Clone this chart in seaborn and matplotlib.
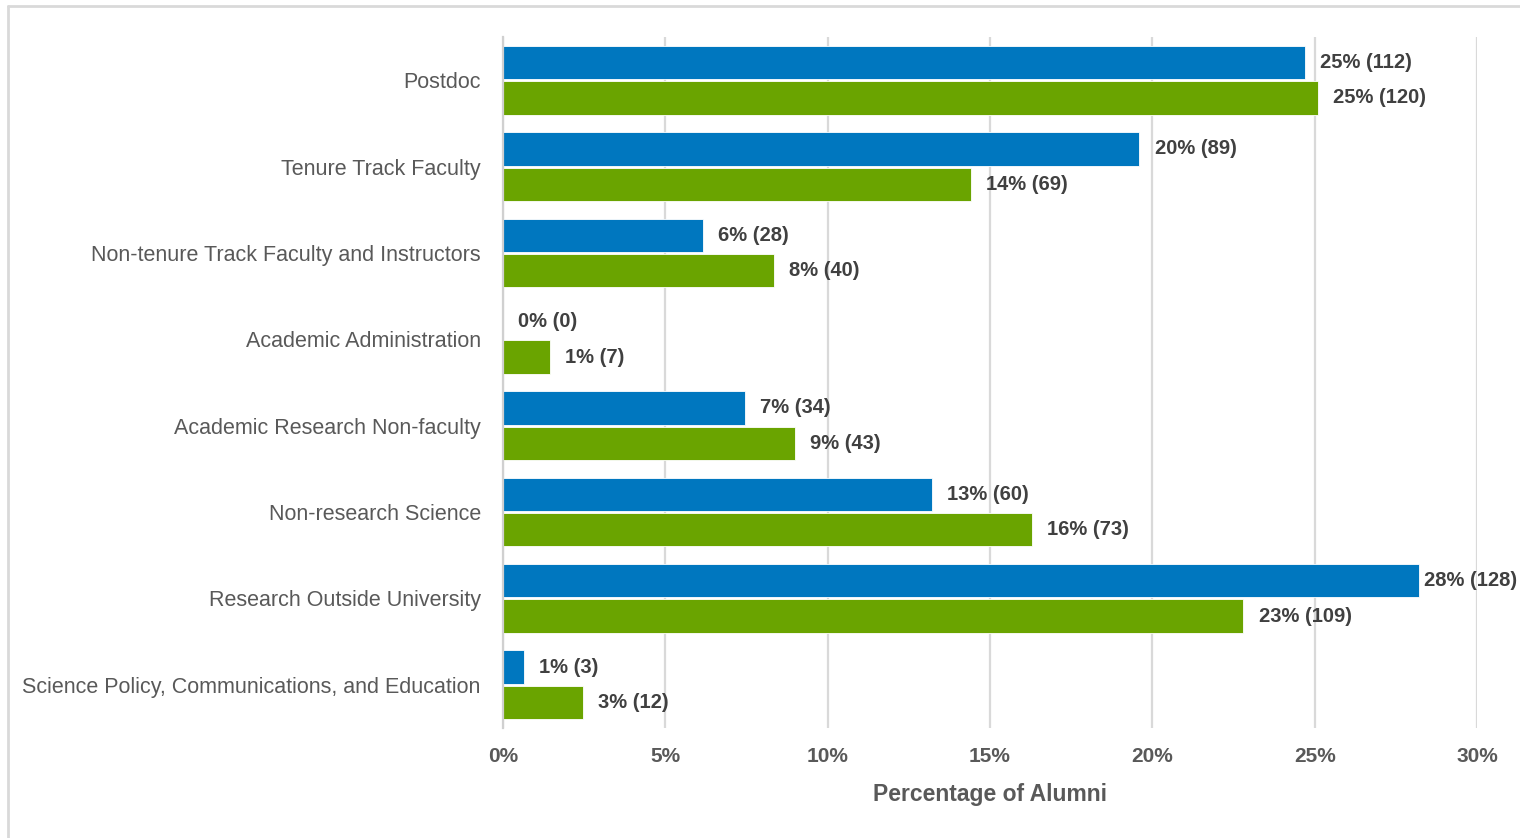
import matplotlib
matplotlib.use("Agg")
import matplotlib.pyplot as plt
from matplotlib import font_manager
from matplotlib.lines import Line2D
import seaborn as sns
import pandas as pd

categories = [
    "Postdoc",
    "Tenure Track Faculty",
    "Non-tenure Track Faculty and Instructors",
    "Academic Administration",
    "Academic Research Non-faculty",
    "Non-research Science",
    "Research Outside University",
    "Science Policy, Communications, and Education",
]
series = ["Group 1", "Group 2"]

pct_blue = [24.7, 19.6, 6.15, 0.0, 7.45, 13.2, 28.2, 0.65]
pct_green = [25.1, 14.4, 8.35, 1.45, 9.0, 16.3, 22.8, 2.45]

labels_blue = ["25% (112)", "20% (89)", "6% (28)", "0% (0)", "7% (34)", "13% (60)", "28% (128)", "1% (3)"]
labels_green = ["25% (120)", "14% (69)", "8% (40)", "1% (7)", "9% (43)", "16% (73)", "23% (109)", "3% (12)"]

x_ticks = [0, 5, 10, 15, 20, 25, 30]

BLUE = "#0077BF"
GREEN = "#6AA400"

names = {f.name for f in font_manager.fontManager.ttflist}
font = "Liberation Sans Narrow" if "Liberation Sans Narrow" in names else "Liberation Sans"

df = pd.DataFrame({
    "category": categories * 2,
    "group": [series[0]] * len(categories) + [series[1]] * len(categories),
    "pct": pct_blue + pct_green,
})

sns.set_style("white")
plt.rcParams["font.family"] = [font, "DejaVu Sans"]

fig = plt.figure(figsize=(15.2, 8.38), dpi=100)
ax = fig.add_axes([503 / 1520, 1 - 728 / 838, (1477 - 503) / 1520, (728 - 37) / 838])

sns.barplot(data=df, x="pct", y="category", hue="group", order=categories,
            hue_order=series, palette=[BLUE, GREEN], saturation=1, orient="h",
            width=0.82, gap=0.06, legend=False, ax=ax, edgecolor="white",
            linewidth=0.6)

# labels sit ~11px past the bar end, except the longest one which is tucked in
for cont, labs, vals in zip(ax.containers, [labels_blue, labels_green], [pct_blue, pct_green]):
    anns = ax.bar_label(cont, labels=labs, padding=11, fontsize=14.5,
                        fontweight="bold", color="#404040")
    for a, v in zip(anns, vals):
        if v > 27:
            a.xyann = (4, 0)

ax.set_xlim(0, 30)
ax.set_xticks(x_ticks)
ax.set_xticklabels([f"{t}%" for t in x_ticks])
ax.grid(axis="x", color="#D9D9D9", linewidth=1.6)
ax.set_axisbelow(True)
for s in ["top", "right", "bottom"]:
    ax.spines[s].set_visible(False)
ax.spines["left"].set_color("#D0D0D0")
ax.spines["left"].set_linewidth(1.6)

ax.tick_params(axis="y", length=0, pad=16, labelsize=15.5, labelcolor="#595959")
ax.tick_params(axis="x", length=0, pad=14, labelsize=15, labelcolor="#595959")
for t in ax.get_xticklabels():
    t.set_fontweight("bold")
ax.set_ylabel("")
ax.set_xlabel("Percentage of Alumni", fontsize=16.5, fontweight="bold",
              color="#595959", labelpad=12)

# outer frame of the original image
fig.add_artist(Line2D([8 / 1520, 1.0], [1 - 6 / 838] * 2, color="#D9D9D9", lw=2,
                      transform=fig.transFigure))
fig.add_artist(Line2D([8 / 1520] * 2, [0.0, 1 - 6 / 838], color="#D9D9D9", lw=2,
                      transform=fig.transFigure))

fig.savefig("out.png", dpi=100, facecolor="white")
